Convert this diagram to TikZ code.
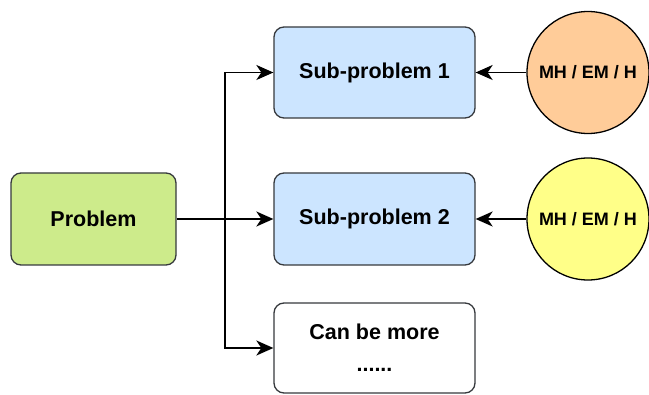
\documentclass[tikz,border=0pt]{standalone}
\usepackage{fontspec}
\setmainfont{Liberation Sans}
\usetikzlibrary{arrows.meta}
\definecolor{gfill}{HTML}{CDEB8B}
\definecolor{bfill}{HTML}{CCE5FF}
\definecolor{ofill}{HTML}{FFCC99}
\definecolor{yfill}{HTML}{FFFF88}
\definecolor{edge}{HTML}{36393D}
\tikzset{
  box/.style={draw=edge, line width=1.3pt, rounded corners=10pt, minimum width=201pt, minimum height=91pt, align=center, font=\fontsize{21.5}{27}\selectfont\bfseries, inner sep=0pt},
  circ/.style={circle, draw=black, line width=1.3pt, minimum size=122pt, inner sep=0pt, font=\fontsize{18}{21}\selectfont\bfseries},
  arr/.style={line width=1.6pt, -{Stealth[length=17pt,width=15pt,inset=5pt]}}
}
\begin{document}
\begin{tikzpicture}[x=1pt,y=-1pt]
\useasboundingbox (0,0) rectangle (649,395);
\node[box, fill=gfill, minimum width=165pt, minimum height=92pt] (prob) at (93.5,219) {Problem};
\node[box, fill=bfill] (s1) at (374.5,72.5) {Sub-problem 1};
\node[box, fill=bfill, minimum height=92pt] (s2) at (374.5,219) {Sub-problem 2};
\node[box, fill=white, minimum height=90pt] (more) at (374.5,348) {Can be more\\[5pt]......};
\node[circ, fill=ofill] (c1) at (588,72.5) {MH / EM / H};
\node[circ, fill=yfill] (c2) at (588,219) {MH / EM / H};
\coordinate (j) at (225,219);
\draw[arr] (prob.east) -- (s2.west);
\draw[arr] (j) |- (s1.west);
\draw[arr] (j) |- (more.west);
\draw[arr] (c1.west) -- (s1.east);
\draw[arr] (c2.west) -- (s2.east);
\end{tikzpicture}
\end{document}
